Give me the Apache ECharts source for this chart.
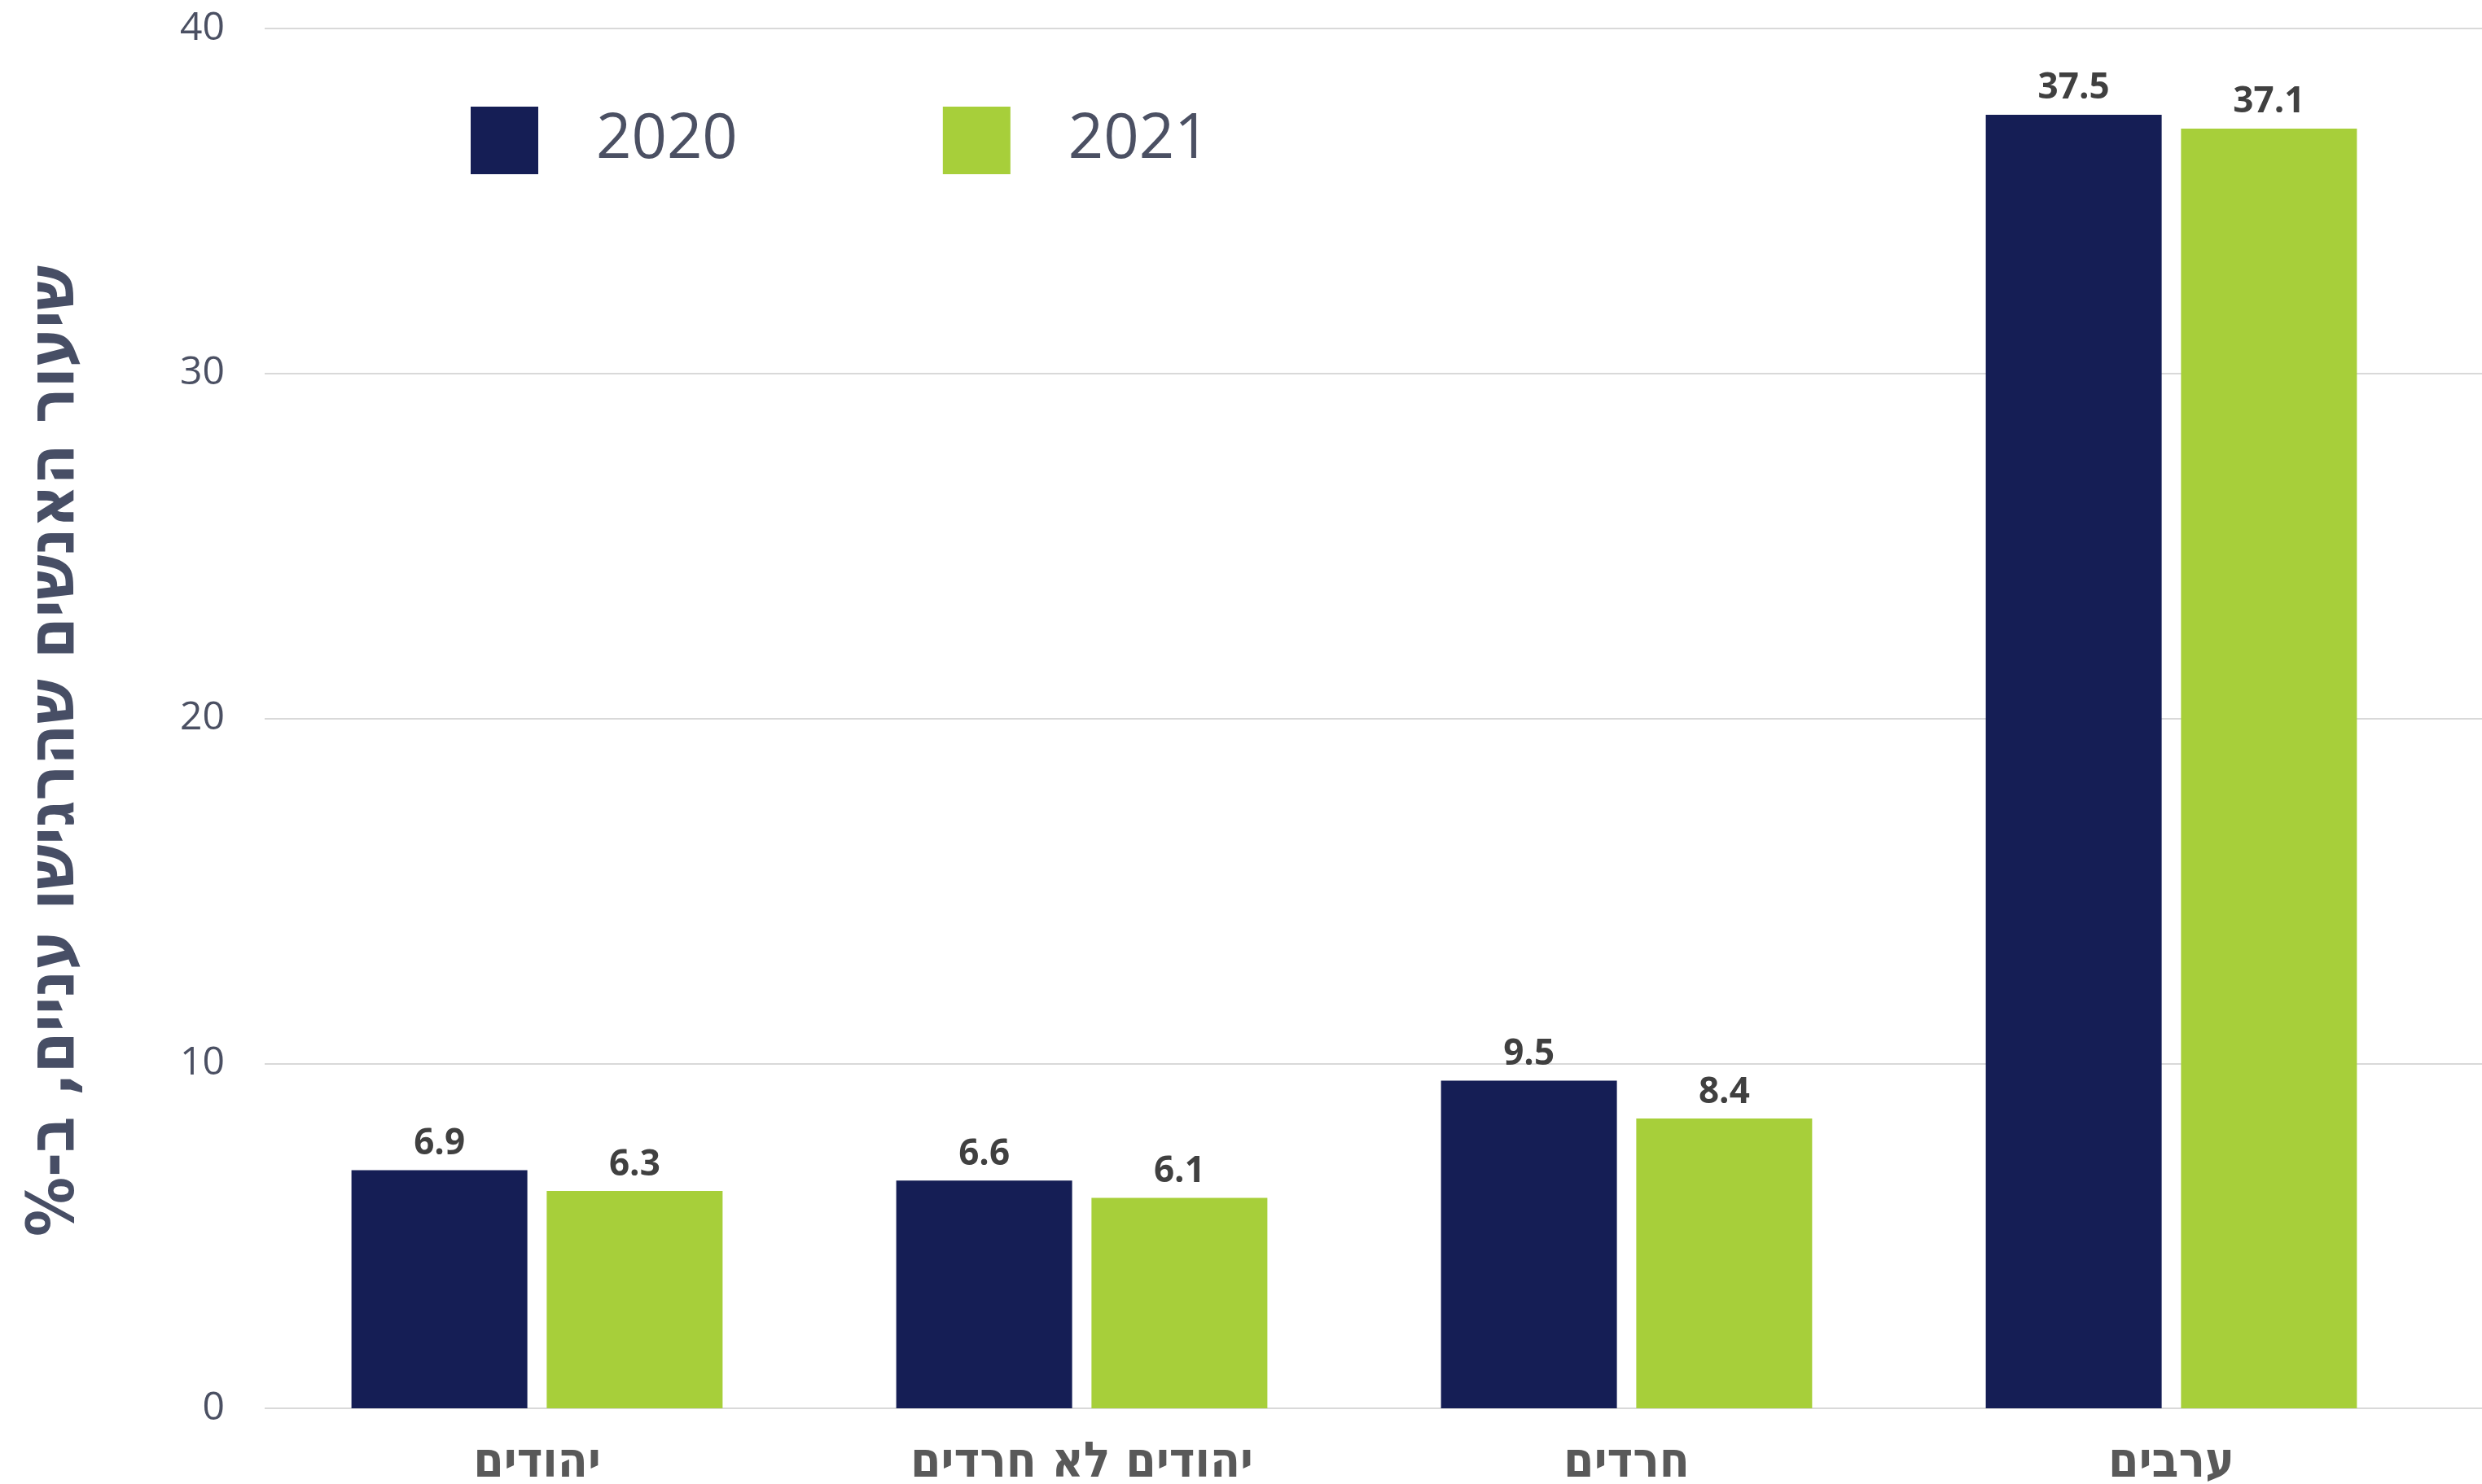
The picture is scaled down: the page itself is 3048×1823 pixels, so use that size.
<!DOCTYPE html>
<html>
<head>
<meta charset="utf-8">
<script src="https://cdn.jsdelivr.net/npm/echarts@6/dist/echarts.min.js"></script>
<style>
html, body { margin: 0; padding: 0; background: #fff; }
#main { width: 3048px; height: 1823px; }
</style>
</head>
<body>
<div id="main"></div>
<script>
// קטגוריות וערכים
var categories = ['יהודים', 'יהודים לא חרדים', 'חרדים', 'ערבים'];
var years = ['2020', '2021'];
var values2020 = [6.9, 6.6, 9.5, 37.5];
var values2021 = [6.3, 6.1, 8.4, 37.1];
var yTicks = [0, 10, 20, 30, 40];

var hebFont = "'Liberation Sans Narrow', 'DejaVu Sans Condensed', 'Liberation Sans', sans-serif";

window.addEventListener("load", function () {
    var myChart = echarts.init(document.getElementById('main'));

    var option = {
        animation: false,
        color: ['#151e55', '#a7cf3a'],
        legend: {
            data: years,
            left: 573,
            top: 126,
            itemWidth: 83,
            itemHeight: 83,
            itemGap: 252,
            icon: 'rect',
            textStyle: {
                fontFamily: 'Open Sans',
                fontSize: 76,
                color: '#4b5063',
                padding: [0, 0, 0, 66]
            }
        },
        grid: [
            // רשת לקווי העזר בלבד, עד קצה התמונה
            { left: 325, right: 0, top: 35, bottom: 93, outerBoundsMode: 'none' },
            // רשת לעמודות
            { left: 325, right: 47, top: 35, bottom: 93, outerBoundsMode: 'none' }
        ],
        xAxis: [
            { gridIndex: 0, type: 'value', show: false, min: 0, max: 1 },
            {
                gridIndex: 1,
                type: 'category',
                data: categories,
                axisLine: { show: false },
                axisTick: { show: false },
                axisLabel: {
                    margin: 38,
                    fontFamily: hebFont,
                    fontWeight: 'bold',
                    fontSize: 60,
                    color: '#595959'
                }
            }
        ],
        yAxis: [
            {
                gridIndex: 0,
                type: 'value',
                min: yTicks[0],
                max: yTicks[yTicks.length - 1],
                interval: 10,
                name: 'שיעור האנשים שהרגישו עניים, ב-%\u200F',
                nameLocation: 'middle',
                nameGap: 216,
                nameRotate: 90,
                nameTextStyle: {
                    fontFamily: hebFont,
                    fontWeight: 'bold',
                    fontSize: 81,
                    color: '#474e65',
                    padding: [0, 80, 0, 0]
                },
                axisLine: { show: false },
                axisTick: { show: false },
                axisLabel: {
                    margin: 49,
                    fontFamily: 'Open Sans',
                    fontSize: 48,
                    color: '#4b5063'
                },
                splitLine: { lineStyle: { color: '#d9d9d9', width: 2 } }
            },
            {
                gridIndex: 1,
                type: 'value',
                min: yTicks[0],
                max: yTicks[yTicks.length - 1],
                interval: 10,
                show: false,
                splitLine: { show: false }
            }
        ],
        series: [
            {
                name: years[0],
                type: 'bar',
                xAxisIndex: 1,
                yAxisIndex: 1,
                data: values2020,
                barWidth: 216,
                barGap: '11%',
                label: {
                    show: true,
                    position: 'top',
                    distance: 10,
                    fontFamily: 'Open Sans',
                    fontWeight: 'bold',
                    fontSize: 44,
                    color: '#404040'
                }
            },
            {
                name: years[1],
                type: 'bar',
                xAxisIndex: 1,
                yAxisIndex: 1,
                data: values2021,
                barWidth: 216,
                barGap: '11%',
                label: {
                    show: true,
                    position: 'top',
                    distance: 10,
                    fontFamily: 'Open Sans',
                    fontWeight: 'bold',
                    fontSize: 44,
                    color: '#404040'
                }
            }
        ]
    };

    myChart.setOption(option);
}, false);
</script>
</body>
</html>
